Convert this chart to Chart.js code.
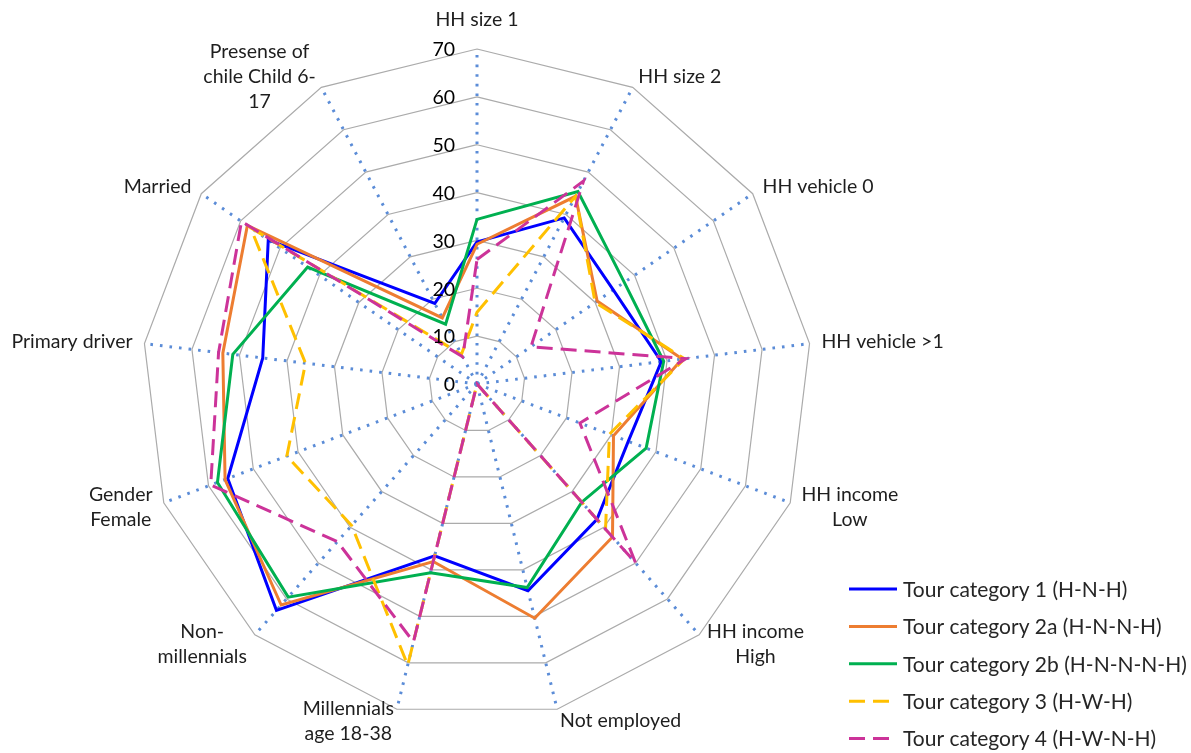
<!DOCTYPE html>
<html>
<head>
<meta charset="utf-8">
<title>Tour categories radar</title>
<script src="https://cdn.jsdelivr.net/npm/chart.js@4.4.1/dist/chart.umd.min.js"></script>
<style>
  html, body { margin: 0; padding: 0; background: #ffffff; }
  #wrap { position: relative; width: 1191px; height: 753px; }
  canvas { display: block; }
</style>
</head>
<body>
<div id="wrap"><canvas id="chart" width="1191" height="753"></canvas></div>
<script>
// Axis categories (each entry is the list of lines of its label)
const categories = [
  ['HH size 1'],
  ['HH size 2'],
  ['HH vehicle 0'],
  ['HH vehicle >1'],
  ['HH income', 'Low'],
  ['HH income', 'High'],
  ['Not employed'],
  ['Millennials', 'age 18-38'],
  ['Non-', 'millennials'],
  ['Gender', 'Female'],
  ['Primary driver'],
  ['Married'],
  ['Presense of', 'chile Child 6-', '17']
];

// Radial tick labels
const tickValues = [0, 10, 20, 30, 40, 50, 60, 70];

// Series names
const seriesNames = [
  'Tour category 1 (H-N-H)',
  'Tour category 2a (H-N-N-H)',
  'Tour category 2b (H-N-N-N-H)',
  'Tour category 3 (H-W-H)',
  'Tour category 4 (H-W-N-H)'
];

// Series values, one per category
const tour1  = [29.7, 39.2, 34.6, 38.8, 33.8, 37.8, 44.5, 37.0, 63.2, 55.7, 45.1, 53.0, 19.0];
const tour2a = [29.2, 44.3, 30.5, 43.2, 30.5, 42.7, 50.4, 38.2, 61.7, 56.3, 53.5, 58.3, 15.6];
const tour2b = [34.4, 45.4, 37.4, 39.3, 37.8, 33.0, 43.8, 40.6, 59.5, 58.0, 51.4, 43.0, 14.1];
const tour3  = [15.0, 44.3, 30.0, 43.7, 29.6, 40.5, 0.0, 60.5, 39.5, 42.5, 36.1, 57.5, 7.0];
const tour4  = [26.0, 47.9, 13.7, 44.0, 23.0, 50.0, 0.0, 55.5, 44.0, 59.5, 54.4, 59.8, 6.4];

const TEXT_FONT = 'Lato, "Open Sans", sans-serif';

// Draws the radial tick numbers, the category labels and the legend
const radarText = {
  id: 'radarText',
  afterDatasetsDraw(chart) {
    const ctx = chart.ctx;
    const r = chart.scales.r;
    ctx.save();

    // tick numbers, just left of the vertical axis
    ctx.font = '19.5px ' + TEXT_FONT;
    ctx.fillStyle = '#000000';
    ctx.textAlign = 'right';
    ctx.textBaseline = 'middle';
    tickValues.forEach(v => {
      const d = r.getDistanceFromCenterForValue(v);
      ctx.fillText(String(v), r.xCenter - 22, r.yCenter - d + 1);
    });

    // category labels around the outer ring
    ctx.font = '19.5px ' + TEXT_FONT;
    ctx.fillStyle = '#1e1e1e';
    ctx.textAlign = 'center';
    const lineH = 25;
    categories.forEach((lines, i) => {
      const angle = r.getIndexAngle(i);
      const s = Math.sin(angle);
      const blockW = Math.max(...lines.map(t => ctx.measureText(t).width));
      const blockH = lines.length * lineH;
      let cx, cy;
      if (Math.abs(s) < 0.01) {
        const p = r.getPointPosition(i, r.drawingArea + 17);
        cx = p.x;
        cy = p.y - blockH / 2;
      } else {
        const p = r.getPointPosition(i, r.drawingArea + 12);
        cx = s > 0 ? p.x + blockW / 2 : p.x - blockW / 2;
        cy = p.y;
      }
      lines.forEach((t, j) => {
        ctx.fillText(t, cx, cy - blockH / 2 + lineH * (j + 0.5));
      });
    });

    // legend, bottom right
    ctx.font = '21px ' + TEXT_FONT;
    ctx.fillStyle = '#262626';
    ctx.textAlign = 'left';
    chart.data.datasets.forEach((ds, k) => {
      const y = 589 + 37.4 * k;
      ctx.beginPath();
      ctx.strokeStyle = ds.borderColor;
      ctx.lineWidth = 3;
      ctx.setLineDash(ds.borderDash || []);
      ctx.moveTo(849, y);
      ctx.lineTo(897, y);
      ctx.stroke();
      ctx.setLineDash([]);
      ctx.fillText(ds.label, 903, y + 1);
    });

    ctx.restore();
  }
};

const colors = ['#0000FF', '#ED7D31', '#00B050', '#FFC000', '#CC3399'];
const dashes = [[], [], [], [16, 8], [16, 8]];
const seriesValues = [tour1, tour2a, tour2b, tour3, tour4];

new Chart(document.getElementById('chart'), {
  type: 'radar',
  data: {
    labels: categories,
    datasets: seriesValues.map((vals, k) => ({
      label: seriesNames[k],
      data: vals,
      borderColor: colors[k],
      backgroundColor: colors[k],
      borderDash: dashes[k],
      borderWidth: 3,
      fill: false,
      tension: 0,
      pointRadius: 0,
      pointHoverRadius: 0,
      order: 5 - k
    }))
  },
  options: {
    responsive: false,
    animation: false,
    devicePixelRatio: 1,
    layout: { padding: { left: 142, right: 379, top: 49, bottom: 34 } },
    plugins: {
      legend: { display: false },
      tooltip: { enabled: false }
    },
    scales: {
      r: {
        min: 0,
        max: 70,
        ticks: { stepSize: 10, display: false },
        grid: { color: '#ABABAB', lineWidth: 1.2, circular: false },
        angleLines: { display: true, color: '#5B8CD7', lineWidth: 3, borderDash: [2.6, 7] },
        pointLabels: { display: false }
      }
    }
  },
  plugins: [radarText]
});
</script>
</body>
</html>
